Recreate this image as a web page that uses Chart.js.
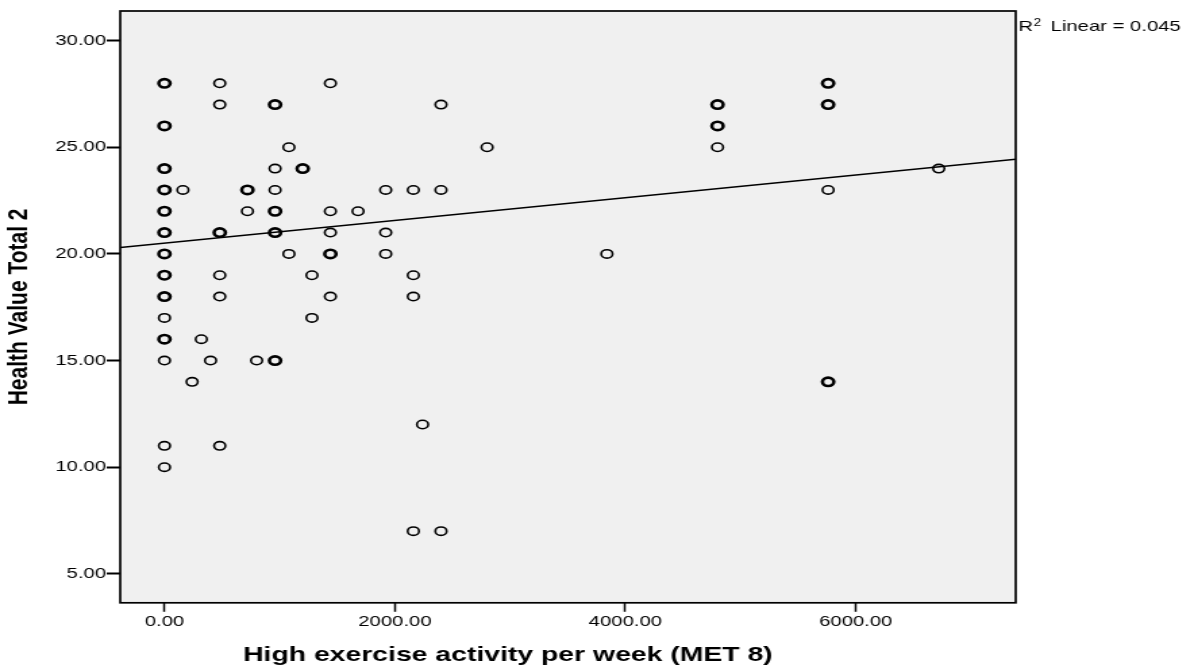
<!DOCTYPE html>
<html>
<head>
<meta charset="utf-8">
<title>High exercise activity vs Health Value Total 2</title>
<script src="https://cdn.jsdelivr.net/npm/chart.js@4.4.1/dist/chart.umd.min.js"></script>
<style>
  html, body { margin: 0; padding: 0; background: #fff; }
  #scatter { position: absolute; left: 0; top: 0; }
</style>
</head>
<body>
<!-- the SPSS export is stretched sideways, so draw narrow and let CSS widen it -->
<canvas id="scatter" width="884" height="670" style="width:1194px;height:670px"></canvas>
<script>
// One entry per plotted ring, grouped by x column
const metValues = [
  0, 0, 0, 0, 0, 0, 0, 0, 0, 0, 0, 0, 0, 0,
  160, 240, 320, 400,
  480, 480, 480, 480, 480, 480,
  720, 720, 800,
  960, 960, 960, 960, 960, 960,
  1080, 1080, 1200, 1280, 1280,
  1440, 1440, 1440, 1440, 1440,
  1680, 1920, 1920, 1920,
  2160, 2160, 2160, 2160, 2240,
  2400, 2400, 2400, 2800, 3840,
  4800, 4800, 4800,
  5760, 5760, 5760, 5760,
  6720
];
const healthValues = [
  28, 26, 24, 23, 22, 21, 20, 19, 18, 17, 16, 15, 11, 10,
  23, 14, 16, 15,
  28, 27, 21, 19, 18, 11,
  23, 22, 15,
  27, 24, 23, 22, 21, 15,
  25, 20, 24, 19, 17,
  28, 22, 21, 20, 18,
  22, 23, 21, 20,
  23, 19, 18, 7, 12,
  27, 23, 7, 25, 20,
  27, 26, 25,
  28, 27, 23, 14,
  24
];
// Cases stacked on the same spot (more than one shows as a heavier ring)
const caseCounts = [
  2, 2, 2, 2, 2, 2, 2, 2, 2, 1, 2, 1, 1, 1,
  1, 1, 1, 1,
  1, 1, 2, 1, 1, 1,
  2, 1, 1,
  2, 1, 1, 2, 2, 2,
  1, 1, 2, 1, 1,
  1, 1, 1, 2, 1,
  1, 1, 1, 1,
  1, 1, 1, 1, 1,
  1, 1, 1, 1, 1,
  2, 2, 1,
  2, 2, 1, 2,
  1
];

const xTicks = [0, 2000, 4000, 6000];
const yTicks = [5, 10, 15, 20, 25, 30];

// Fit line where it meets the left and right edges of the frame
const fitX = [-384, 7388];
const fitY = [20.3, 24.44];
const fitLabel = 'Linear = 0.045';

const FONT_FAMILY = '"Liberation Sans", Arial, sans-serif';
const TICK_FONT = { family: FONT_FAMILY, size: 15 };
const TITLE_FONT = { family: FONT_FAMILY, size: 21, weight: 'bold' };

// Grey plot background, black frame and the R² note on the right
const plotFrame = {
  id: 'plotFrame',
  beforeDraw(chart) {
    const { ctx, chartArea: a } = chart;
    ctx.save();
    ctx.fillStyle = '#f0f0f0';
    ctx.fillRect(a.left, a.top, a.width, a.height);
    ctx.restore();
  },
  afterDatasetsDraw(chart) {
    const { ctx, chartArea: a } = chart;
    ctx.save();
    ctx.strokeStyle = '#000';
    ctx.lineWidth = 1.7;
    ctx.strokeRect(a.left, a.top, a.width, a.height);
    ctx.restore();
  },
  afterDraw(chart) {
    const { ctx, chartArea: a } = chart;
    const x = a.right + 2;
    const y = a.top + 16;
    ctx.save();
    ctx.fillStyle = '#000';
    ctx.textBaseline = 'middle';
    ctx.font = `15px ${FONT_FAMILY}`;
    ctx.fillText('R', x, y);
    const rw = ctx.measureText('R').width;
    ctx.font = `10px ${FONT_FAMILY}`;
    ctx.fillText('2', x + rw + 0.5, y - 4);
    ctx.font = `15px ${FONT_FAMILY}`;
    ctx.fillText(fitLabel, x + rw + 13, y);
    ctx.restore();
  }
};

function buildChart() {
  const points = metValues.map((x, i) => ({ x, y: healthValues[i] }));
  const fit = fitX.map((x, i) => ({ x, y: fitY[i] }));

  new Chart(document.getElementById('scatter'), {
    type: 'scatter',
    data: {
      datasets: [
        {
          label: 'Cases',
          data: points,
          order: 0,
          pointStyle: 'circle',
          pointRadius: 4.2,
          pointHoverRadius: 4.2,
          pointBackgroundColor: 'rgba(0,0,0,0)',
          pointBorderColor: '#000',
          pointBorderWidth: c => (caseCounts[c.dataIndex] > 1 ? 2.6 : 1.6)
        },
        {
          label: 'Fit line',
          data: fit,
          order: 1,
          showLine: true,
          borderColor: '#000',
          borderWidth: 1.5,
          pointRadius: 0,
          pointHoverRadius: 0
        }
      ]
    },
    options: {
      responsive: false,
      maintainAspectRatio: false,
      devicePixelRatio: 1,
      animation: false,
      events: [],
      layout: { padding: { top: 11, right: 132, bottom: 0, left: 0 } },
      plugins: {
        legend: { display: false },
        tooltip: { enabled: false },
        title: {
          display: true,
          position: 'bottom',
          text: 'High exercise activity per week (MET 8)',
          color: '#000',
          font: TITLE_FONT,
          padding: { top: 0, bottom: 2 }
        }
      },
      scales: {
        x: {
          type: 'linear',
          min: -384,
          max: 7388,
          afterBuildTicks: s => { s.ticks = xTicks.map(v => ({ value: v })); },
          afterFit: s => { s.height = 40; },
          border: { display: false },
          grid: {
            drawOnChartArea: false,
            drawTicks: true,
            tickLength: 9,
            tickWidth: 1.5,
            tickColor: '#000',
            color: '#000'
          },
          ticks: {
            color: '#000',
            font: TICK_FONT,
            padding: 1.5,
            maxRotation: 0,
            autoSkip: false,
            callback: v => v.toFixed(2)
          }
        },
        y: {
          type: 'linear',
          min: 3.64,
          max: 31.39,
          afterBuildTicks: s => { s.ticks = yTicks.map(v => ({ value: v })); },
          afterFit: s => { s.width = 89; },
          border: { display: false },
          grid: {
            drawOnChartArea: false,
            drawTicks: true,
            tickLength: 10,
            tickWidth: 2,
            tickColor: '#000',
            color: '#000'
          },
          ticks: {
            color: '#000',
            font: TICK_FONT,
            padding: 0.5,
            autoSkip: false,
            callback: v => v.toFixed(2)
          },
          title: {
            display: true,
            text: 'Health Value Total 2',
            color: '#000',
            font: TITLE_FONT,
            padding: { top: 2, bottom: 0 }
          }
        }
      }
    },
    plugins: [plotFrame]
  });
}

buildChart();
</script>
</body>
</html>
